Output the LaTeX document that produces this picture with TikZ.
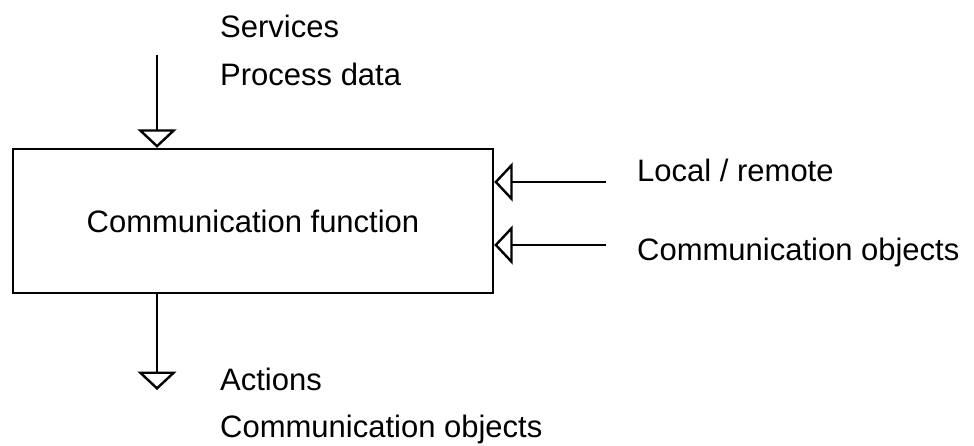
\documentclass[tikz,border=0pt]{standalone}
\usepackage{fontspec}
\setmainfont{Liberation Sans}
\usetikzlibrary{arrows.meta}
\begin{document}
\begin{tikzpicture}[x=1pt,y=-1pt,
  every node/.style={font=\fontsize{31}{38}\selectfont, inner sep=0pt},
  lbl/.style={anchor=base west},
  conn/.style={line width=2.4pt, -{Triangle[open, length=18.5pt, width=39pt, fill=white]}}]
\useasboundingbox (0,0) rectangle (974,446);
\node[draw, line width=2.4pt, minimum width=480pt, minimum height=144pt] (box) at (253,221) {Communication function};
% top input
\coordinate (topin) at (157,55);
\draw[conn] (topin) -- (box.north -| topin);
\node[lbl] (services) at (220,38) {Services};
\node[lbl] (procdata) at (220,86) {Process data};
% right inputs
\coordinate (rin1) at (606,182);
\coordinate (rin2) at (606,245);
\draw[conn] (rin1) -- (box.east |- rin1);
\draw[conn] (rin2) -- (box.east |- rin2);
\node[lbl] (local) at (637,182) {Local / remote};
\node[lbl] (commobj1) at (637,261) {Communication objects};
% bottom output
\coordinate (botout) at (157,390);
\draw[conn] (box.south -| botout) -- (botout);
\node[lbl] (actions) at (220,390) {Actions};
\node[lbl] (commobj2) at (220,437) {Communication objects};
\end{tikzpicture}
\end{document}
